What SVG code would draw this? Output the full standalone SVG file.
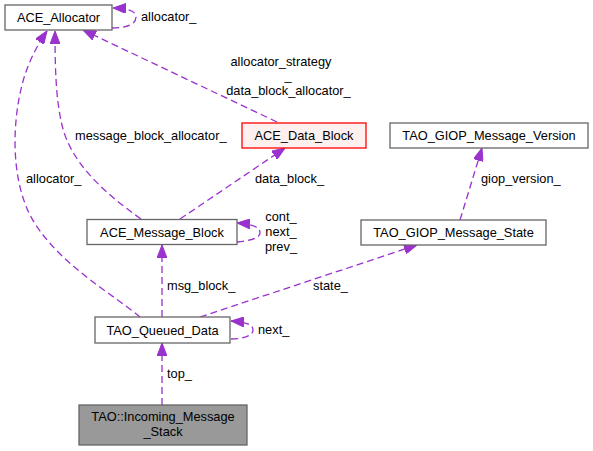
<svg xmlns="http://www.w3.org/2000/svg" width="593" height="451" viewBox="0 0 593 451">
<style>
.node rect{fill:#ffffff;stroke:#666666;stroke-width:1.3}
#n_data rect{fill:#fff0f0;stroke:#ff0000}
#n_stack rect{fill:#999999;stroke:#666666}
text{font-family:"Liberation Sans",Arial,Helvetica,sans-serif;font-size:12.8px;fill:#000000}
.node text{text-anchor:middle}
.edge{fill:none;stroke:#9a32cd;stroke-width:1.3;stroke-dasharray:7,4;marker-end:url(#arr)}
</style>
<defs>
<marker id="arr" markerUnits="userSpaceOnUse" viewBox="0 0 13 10" markerWidth="13" markerHeight="10" refX="13" refY="5" orient="auto">
<path d="M0,0 L13,5 L0,10 z" fill="#9a32cd" stroke="#9a32cd" stroke-width="1"/>
</marker>
</defs>
<rect width="593" height="451" fill="#ffffff"/>
<g id="edges">
<path class="edge" d="M112,28 C125,28 136,25 136,17 C136,11 128,8.5 113,8"/>
<path class="edge" d="M277,122 L83,30"/>
<path class="edge" d="M141,219 C100,190 70,160 62,125 C56,100 55,70 55,31"/>
<path class="edge" d="M140,317 C110,292 55,262 30,215 C10,175 13,120 22,85 C27,65 36,47 47,31"/>
<path class="edge" d="M180,219 L285,148"/>
<path class="edge" d="M237,242 C250,241 260,238 260,233 C260,227 252,224 237,223"/>
<path class="edge" d="M162,317 L162,245"/>
<path class="edge" d="M200,317 L417,245"/>
<path class="edge" d="M460,220 L482,148"/>
<path class="edge" d="M162,405 L162,343"/>
<path class="edge" d="M231,339 C245,339 253,335 253,330 C253,324 245,322 231,321"/>
<text x="141" y="21">allocator_</text>
<text x="281" y="65.5" text-anchor="middle">allocator_strategy</text>
<text x="288" y="80" text-anchor="middle">_</text>
<text x="288.5" y="94.5" text-anchor="middle">data_block_allocator_</text>
<text x="75" y="139.5">message_block_allocator_</text>
<text x="26" y="182.5">allocator_</text>
<text x="255" y="182.5">data_block_</text>
<text x="481" y="182.5">giop_version_</text>
<text x="281" y="221" text-anchor="middle">cont_</text>
<text x="281" y="236" text-anchor="middle">next_</text>
<text x="281" y="251" text-anchor="middle">prev_</text>
<text x="167" y="289.5">msg_block_</text>
<text x="313" y="289.5">state_</text>
<text x="258" y="333.5">next_</text>
<text x="167" y="377.5">top_</text>
</g>
<g id="n_alloc" class="node"><rect x="5" y="5" width="107" height="25"/><text x="58.5" y="22">ACE_Allocator</text></g>
<g id="n_data" class="node"><rect x="242" y="123" width="124" height="25"/><text x="304" y="140">ACE_Data_Block</text></g>
<g id="n_ver" class="node"><rect x="390" y="123" width="198" height="25"/><text x="489" y="140">TAO_GIOP_Message_Version</text></g>
<g id="n_state" class="node"><rect x="361" y="220" width="185" height="25"/><text x="453.5" y="237">TAO_GIOP_Message_State</text></g>
<g id="n_mb" class="node"><rect x="87" y="219.5" width="150" height="25"/><text x="162" y="236.5">ACE_Message_Block</text></g>
<g id="n_qd" class="node"><rect x="95" y="317" width="135" height="26"/><text x="162.5" y="334.5">TAO_Queued_Data</text></g>
<g id="n_stack" class="node"><rect x="79" y="405" width="168" height="40"/><text x="163" y="421">TAO::Incoming_Message</text><text x="163" y="435.5">_Stack</text></g>
</svg>
